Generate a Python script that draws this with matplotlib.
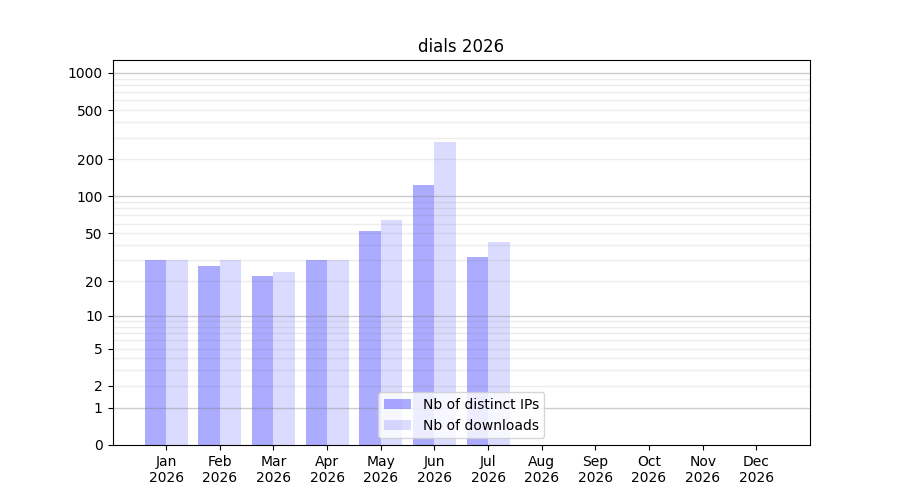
import matplotlib
matplotlib.use('Agg')
import matplotlib.pyplot as plt
import numpy as np

months = ['Jan', 'Feb', 'Mar', 'Apr', 'May', 'Jun', 'Jul', 'Aug', 'Sep', 'Oct', 'Nov', 'Dec']
year = 2026
distinct_ips = [30, 27, 22, 30, 52, 124, 32, 0, 0, 0, 0, 0]
downloads = [30, 30, 24, 30, 64, 277, 42, 0, 0, 0, 0, 0]
y_ticks = [0, 1, 2, 5, 10, 20, 50, 100, 200, 500, 1000]


def fwd(v):
    return np.log10(np.maximum(v, 0) + 1)


def inv(v):
    return 10 ** v - 1


fig, ax = plt.subplots(figsize=(9, 5), dpi=100)
ax.set_yscale('function', functions=(fwd, inv))

x = np.arange(len(months))
w = 0.4
ax.bar(x - w / 2, distinct_ips, w, color='blue', alpha=0.33, label='Nb of distinct IPs')
ax.bar(x + w / 2, downloads, w, color='blue', alpha=0.14, label='Nb of downloads')

# grille : lignes fortes aux puissances de 10, légères ailleurs
for dec in [1, 10, 100]:
    for m in range(2, 10):
        ax.axhline(m * dec, color='gray', alpha=0.15, linewidth=1)
for v in [1, 10, 100, 1000]:
    ax.axhline(v, color='gray', alpha=0.4, linewidth=1)

ax.set_xlim(-1, 12)
ax.set_ylim(0, 1272)
ax.set_yticks(y_ticks)
ax.set_yticklabels([str(t) for t in y_ticks])
ax.minorticks_off()
ax.set_xticks(x)
ax.set_xticklabels([f'{m}\n{year}' for m in months])
ax.set_title(f'dials {year}')
ax.legend(loc='lower center')

plt.savefig('out.png', dpi=100)
